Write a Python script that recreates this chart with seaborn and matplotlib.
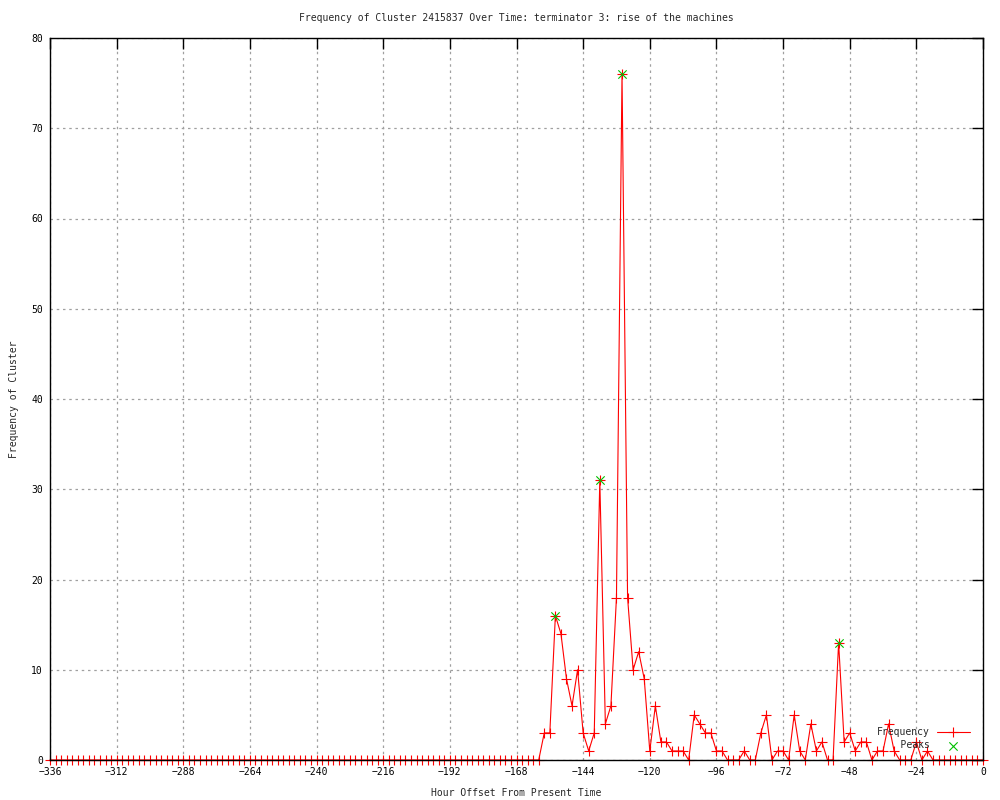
import numpy as np
import pandas as pd
import matplotlib
matplotlib.use("Agg")
import matplotlib.pyplot as plt
import seaborn as sns

# ---- data ----
hours = np.arange(-336, 1, 2)  # hourly offsets, every 2 hours

freq_quiet = [  # -336 .. -162 (88 points)
    0, 0, 0, 0, 0, 0, 0, 0, 0, 0, 0, 0, 0, 0, 0, 0, 0, 0, 0, 0, 0, 0,
    0, 0, 0, 0, 0, 0, 0, 0, 0, 0, 0, 0, 0, 0, 0, 0, 0, 0, 0, 0, 0, 0,
    0, 0, 0, 0, 0, 0, 0, 0, 0, 0, 0, 0, 0, 0, 0, 0, 0, 0, 0, 0, 0, 0,
    0, 0, 0, 0, 0, 0, 0, 0, 0, 0, 0, 0, 0, 0, 0, 0, 0, 0, 0, 0, 0, 0,
]
freq_active = [  # -160 .. 0 (81 points)
    0, 3, 3, 16, 14, 9, 6, 10, 3, 1,
    3, 31, 4, 6, 18, 76, 18, 10, 12, 9,
    1, 6, 2, 2, 1, 1, 1, 0, 5, 4,
    3, 3, 1, 1, 0, 0, 0, 1, 0, 0,
    3, 5, 0, 1, 1, 0, 5, 1, 0, 4,
    1, 2, 0, 0, 13, 2, 3, 1, 2, 2,
    0, 1, 1, 4, 1, 0, 0, 0, 2, 0,
    1, 0, 0, 0, 0, 0, 0, 0, 0, 0, 0,
]
frequency = freq_quiet + freq_active

peak_hours = [-154, -138, -130, -52]
peak_values = [16, 31, 76, 13]

x_ticks = list(range(-336, 1, 24))
y_ticks = list(range(0, 81, 10))

title = "Frequency of Cluster 2415837 Over Time: terminator 3: rise of the machines"
x_label = "Hour Offset From Present Time"
y_label = "Frequency of Cluster"

# ---- plot ----
sns.set_style("white")
plt.rcParams["font.family"] = ["DejaVu Sans Mono", "DejaVu Sans"]

df = pd.DataFrame({"hour": hours, "freq": frequency})
peaks = pd.DataFrame({"hour": peak_hours, "freq": peak_values})

fig = plt.figure(figsize=(10, 8), dpi=100)
ax = fig.add_axes([0.05, 0.05, 0.933, 0.9025])

sns.lineplot(data=df, x="hour", y="freq", color="#ff0000", linewidth=0.8,
             marker="+", markersize=6.5, markeredgewidth=0.8,
             markeredgecolor="#ff0000", ax=ax, label="Frequency",
             zorder=2.2, clip_on=False)
sns.scatterplot(data=peaks, x="hour", y="freq", marker="x", color="#00c000",
                s=36, linewidth=0.8, ax=ax, label="    Peaks", zorder=4)

ax.set_xlim(-336, 0)
ax.set_ylim(0, 80)
ax.set_xticks(x_ticks)
ax.set_yticks(y_ticks)
ax.grid(True, color="#a0a0a0", linestyle=(0, (2, 3)), linewidth=0.9)
ax.set_axisbelow(True)
ax.tick_params(direction="in", length=8, width=1, top=True, right=True,
               labelsize=7, colors="black", pad=5)
for s in ax.spines.values():
    s.set_color("black")
    s.set_linewidth(1)
    s.set_zorder(2.5)

ax.set_title(title, fontsize=7, pad=12)
ax.set_xlabel(x_label, fontsize=7, labelpad=8)
ax.set_ylabel(y_label, fontsize=7, labelpad=9)

ax.legend(loc="lower right", bbox_to_anchor=(0.99, 0.008), borderaxespad=0,
          frameon=False, markerfirst=False, fontsize=7, handlelength=3.4,
          handletextpad=0.7, labelspacing=0.35)

fig.savefig("out.png", dpi=100)
